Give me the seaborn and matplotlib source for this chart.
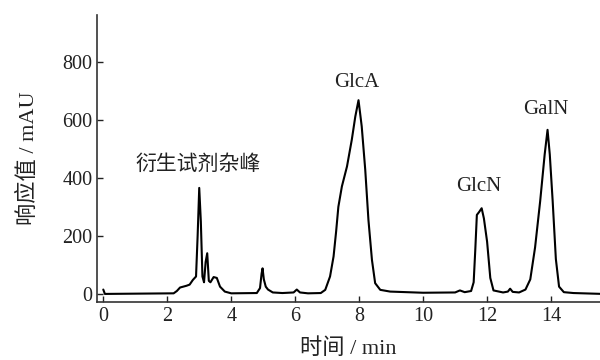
import matplotlib
matplotlib.use("Agg")
import matplotlib.pyplot as plt
import pandas as pd
import seaborn as sns

# chromatogram trace (time in min, response in mAU)
time_min = [
  0.0, 0.05, 0.1, 2.2, 2.3, 2.4, 2.5, 2.6, 2.7, 2.8, 2.9, 2.95, 3.0, 3.05,
  3.1, 3.15, 3.2, 3.25, 3.3, 3.35, 3.45, 3.55, 3.65, 3.8, 4.0, 4.8, 4.9,
  4.95, 4.98, 5.02, 5.08, 5.15, 5.3, 5.6, 5.95, 6.05, 6.15, 6.4, 6.8, 6.94,
  7.09, 7.2, 7.28, 7.35, 7.46, 7.62, 7.77, 7.88, 7.98, 8.08, 8.19, 8.29,
  8.4, 8.5, 8.66, 8.97,
  10.0, 11.0, 11.15, 11.3, 11.5, 11.58, 11.63, 11.68, 11.75, 11.83,
  11.9, 12.0, 12.1, 12.2, 12.5, 12.65, 12.72, 12.8, 13.0, 13.2, 13.35,
  13.5, 13.66, 13.8, 13.89, 13.96, 14.05, 14.15, 14.25, 14.4, 14.7, 15.6,
]
response_mau = [
  15, 0, 0, 2, 10, 22, 25, 28, 32, 48, 60, 200, 365, 250,
  60, 40, 110, 140, 45, 40, 58, 55, 25, 8, 2, 3, 20,
  70, 88, 50, 25, 15, 5, 3, 5, 15, 5, 2, 3, 14,
  60, 129, 215, 300, 370, 439, 531, 611, 667, 577, 428, 255,
  117, 37, 14, 8,
  4, 5, 12, 6, 10, 40, 150, 272, 282, 295,
  260, 180, 55, 12, 5, 8, 18, 7, 5, 15, 50,
  160, 320, 480, 565, 480, 320, 120, 25, 6, 3, 0,
]

peak_names = ["衍生试剂杂峰", "GlcA", "GlcN", "GalN"]
peak_label_x = [2.97, 7.94, 11.75, 13.84]
peak_label_y = [445, 728, 369, 634]

x_ticks = [0, 2, 4, 6, 8, 10, 12, 14]
y_ticks = [0, 200, 400, 600, 800]

sns.set_style("ticks")
plt.rcParams["font.family"] = ["Liberation Serif", "Noto Sans CJK SC"]
plt.rcParams["font.size"] = 14

df = pd.DataFrame({"time": time_min, "resp": response_mau})

fig = plt.figure(figsize=(6, 3.6), dpi=100)
ax = fig.add_axes([0.162, 0.161, 0.838, 0.797])

sns.lineplot(data=df, x="time", y="resp", sort=False, estimator=None,
             color="black", linewidth=1.5, ax=ax)

for name, lx, ly in zip(peak_names, peak_label_x, peak_label_y):
  ax.text(lx, ly, name, ha="center", va="center", fontsize=15, color="#222222")

ax.set_xlim(-0.19, 15.53)
ax.set_ylim(-28, 960)
ax.set_xticks(x_ticks)
ax.set_yticks(y_ticks)
ax.tick_params(direction="in", length=4, width=1, labelsize=14.5, colors="#222222")
ax.set_xlabel("时间 / min", fontsize=16, labelpad=9, color="#222222")
ax.set_ylabel("响应值 / mAU", fontsize=16, labelpad=17, color="#222222")
sns.despine(ax=ax)
for side in ["left", "bottom"]:
  ax.spines[side].set_color("#333333")
  ax.spines[side].set_linewidth(1.2)

fig.savefig("out.png", dpi=100)
